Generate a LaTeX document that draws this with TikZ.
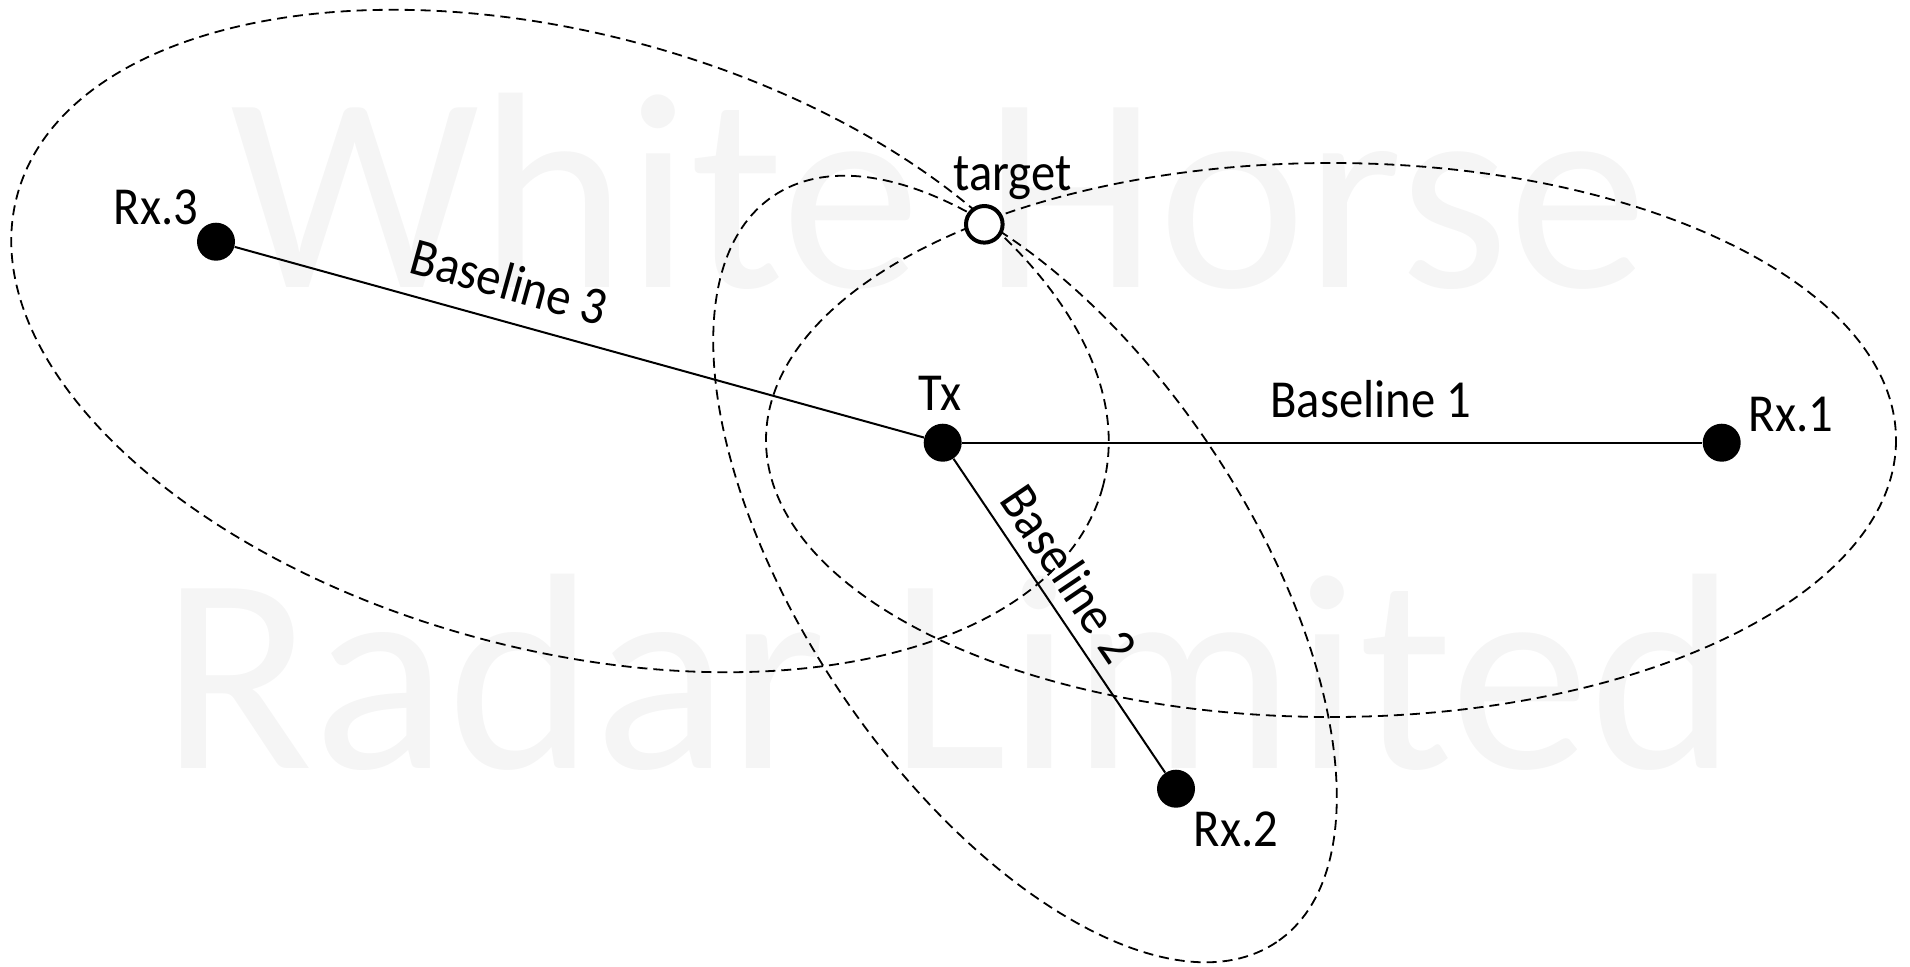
\documentclass[tikz,border=0pt]{standalone}
\usepackage{fontspec}
\setmainfont{Carlito}
\newcommand{\tallt}[1]{\scalebox{1}[1.1]{#1}}
\begin{document}
\begin{tikzpicture}[x=0.5pt,y=-0.5pt,
  dot/.style={circle,fill=black,inner sep=0pt,minimum size=19pt},
  tgt/.style={circle,draw=black,fill=white,line width=2pt,inner sep=0pt,minimum size=18.3pt},
  lbl/.style={font=\fontsize{24.3}{28}\selectfont,inner sep=0pt},
  baseln/.style={line width=1pt},
  orbit/.style={line width=0.9pt,dash pattern=on 5pt off 3pt},
  wm/.style={font=\fontsize{140}{160}\selectfont,inner sep=0pt,anchor=base,text=black!4}]
\useasboundingbox (0,0) rectangle (1910,966);
% watermark
\node[wm] (wm1) at (939,287) {White Horse};
\node[wm] (wm2) at (949,768) {Radar Limited};
% stations
\node[dot] (tx)  at (942.7,442.7) {};
\node[dot] (rx1) at (1721.7,442.7) {};
\node[dot] (rx2) at (1176,788.7) {};
\node[dot] (rx3) at (216,241.7) {};
% ellipses
\draw[orbit] (1331,440) ellipse [x radius=565, y radius=277];
\draw[orbit, rotate around={-15:(560,341)}] (560,341) ellipse [x radius=562, y radius=308];
\draw[orbit, rotate around={-56:(1025,569)}] (1025,569) ellipse [x radius=450, y radius=222];
% target
\node[tgt] (tg) at (984.3,224.3) {};
% baselines
\draw[baseln] (tx) -- node[lbl, sloped, above, inner sep=12pt, pos=0.552] (bl1) {\tallt{Baseline 1}} (rx1);
\draw[baseln] (tx) -- node[lbl, sloped, above, inner sep=6pt, pos=0.423] (bl2) {\tallt{Baseline 2}} (rx2);
\draw[baseln] (rx3) -- node[lbl, sloped, above, inner sep=10pt, pos=0.383] (bl3) {\tallt{Baseline 3}} (tx);
% labels
\node[lbl,anchor=base] (txl)  at (940,410) {\tallt{Tx}};
\node[lbl,anchor=base] (rx1l) at (1791,431.7) {\tallt{Rx.1}};
\node[lbl,anchor=base] (rx2l) at (1236,846.7) {\tallt{Rx.2}};
\node[lbl,anchor=base] (rx3l) at (156,224) {\tallt{Rx.3}};
\node[lbl,anchor=base] (tgl)  at (1012.5,190) {\tallt{target}};
\end{tikzpicture}
\end{document}
